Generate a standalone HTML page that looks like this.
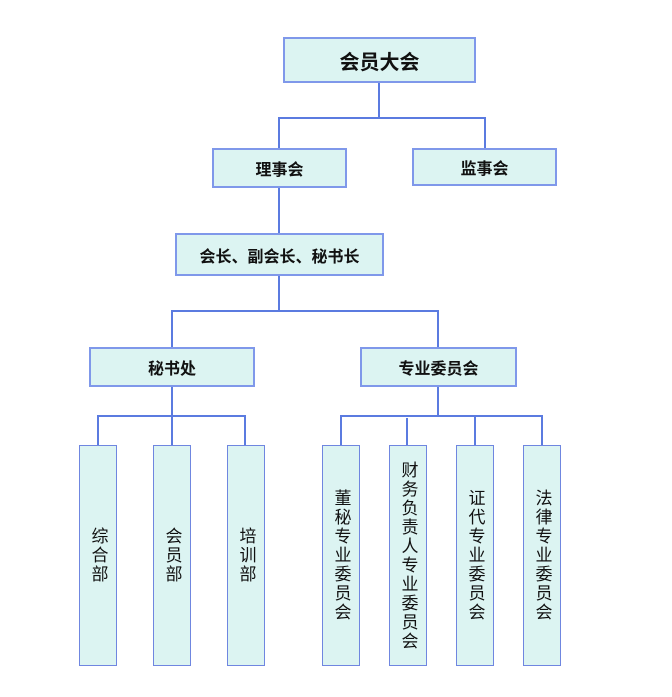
<!DOCTYPE html><html><head><meta charset="utf-8"><style>
body{margin:0;width:672px;height:697px;background:#fff;position:relative;font-family:"Liberation Sans","Noto Sans CJK SC",sans-serif;overflow:hidden}
.b{position:absolute;box-sizing:border-box;background:#dcf4f2;border:2px solid #7f98ea;display:flex;align-items:center;justify-content:center;font-weight:bold;font-size:16px;color:#111}
.v{font-weight:normal;font-size:17px;writing-mode:vertical-rl;text-orientation:upright;letter-spacing:2px;border-width:1px;border-color:#6f86e0}
svg{position:absolute;left:0;top:0}
</style></head><body>
<svg width="672" height="697"><g stroke="#5b7be0" stroke-width="2" fill="none">
<path d="M379 83V118M279 148V118H485V148M279 188V233M279 276V311M172 347V311H438V347M172 387V416M98 445V416H245V445M172 416V445M438 387V416M341 445V416H542V445M475 416V445M407 418V445"/></g></svg>
<div class="b" style="left:283px;top:37px;width:193px;height:46px;font-size:20px">会员大会</div>
<div class="b" style="left:212px;top:148px;width:135px;height:40px">理事会</div>
<div class="b" style="left:412px;top:148px;width:145px;height:38px">监事会</div>
<div class="b" style="left:175px;top:233px;width:209px;height:43px">会长、副会长、秘书长</div>
<div class="b" style="left:89px;top:347px;width:166px;height:40px">秘书处</div>
<div class="b" style="left:360px;top:347px;width:157px;height:40px">专业委员会</div>
<div class="b v" style="left:79px;top:445px;width:38px;height:221px">综合部</div>
<div class="b v" style="left:153px;top:445px;width:38px;height:221px">会员部</div>
<div class="b v" style="left:227px;top:445px;width:38px;height:221px">培训部</div>
<div class="b v" style="left:322px;top:445px;width:38px;height:221px">董秘专业委员会</div>
<div class="b v" style="left:389px;top:445px;width:38px;height:221px">财务负责人专业委员会</div>
<div class="b v" style="left:456px;top:445px;width:38px;height:221px">证代专业委员会</div>
<div class="b v" style="left:523px;top:445px;width:38px;height:221px">法律专业委员会</div>
</body></html>
